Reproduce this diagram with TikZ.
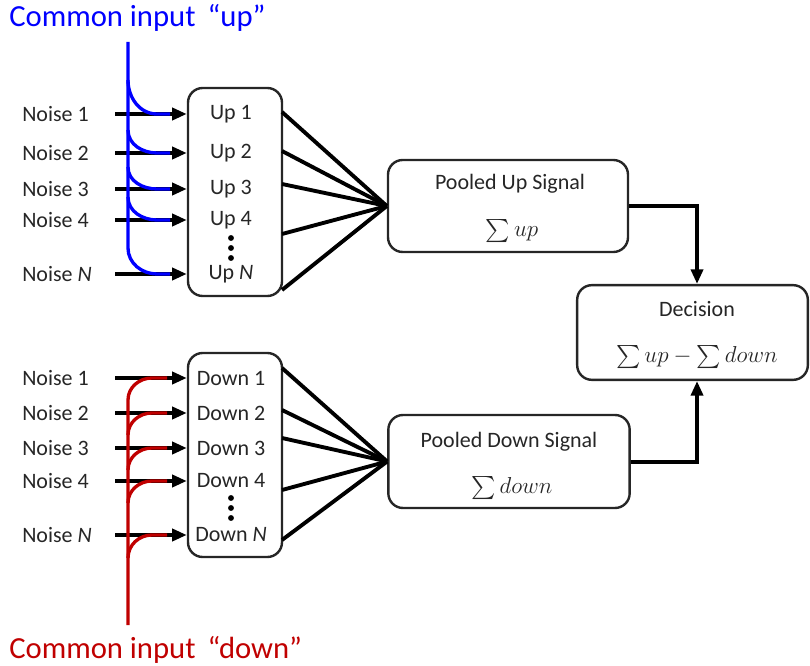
\documentclass[tikz,border=0pt]{standalone}
\usepackage{exscale}
\usepackage{fontspec}
\setmainfont{Carlito}
\usetikzlibrary{arrows.meta}
\definecolor{upblue}{RGB}{0,0,255}
\definecolor{downred}{RGB}{192,0,0}
\newcommand\bigsum{\mathop{\textstyle\sum}\nolimits}
\tikzset{
  box/.style={draw=black!85, line width=1.8pt, rounded corners=11pt, fill=white},
  lbl/.style={font=\fontsize{16.5}{19}\selectfont, text=black!85, inner sep=0pt},
  ttl/.style={font=\fontsize{23}{27}\selectfont, inner sep=0pt, anchor=west},
  arr/.style={line width=3pt, -{Triangle[length=11pt,width=9pt]}},
  fan/.style={line width=2.9pt},
  conn/.style={line width=3pt, -{Triangle[length=11pt,width=9pt]}},
  blueline/.style={upblue, line width=2.5pt},
  redline/.style={downred, line width=2.5pt},
}
\begin{document}
\begin{tikzpicture}[x=0.75pt,y=-0.75pt]
\useasboundingbox (0,0) rectangle (810,666);

% titles
\node[ttl, text=upblue] (tup) at (9,18) {Common input\, “up”};
\node[ttl, text=downred] (tdown) at (9,650) {Common input\, “down”};

% boxes
\node[box, minimum width=70.5pt, minimum height=156pt] (upbox) at (235,192) {};
\node[box, minimum width=70.5pt, minimum height=153pt] (downbox) at (235,455) {};
\node[box, minimum width=180pt, minimum height=69pt] (poolup) at (508,206) {};
\node[box, minimum width=181pt, minimum height=69.75pt] (pooldown) at (509,461.5) {};
\node[box, minimum width=173pt, minimum height=71pt] (decision) at (692.5,332.5) {};

% box texts
\node[lbl] (pu1) at (510,184) {Pooled Up Signal};
\node[lbl] (pu2) at (512,231) {$\bigsum up$};
\node[lbl] (pd1) at (509,442) {Pooled Down Signal};
\node[lbl] (pd2) at (512,488) {$\bigsum down$};
\node[lbl] (de1) at (697,309) {Decision};
\node[lbl] (de2) at (697,357) {$\bigsum up - \bigsum down$};

% up rows
\foreach \i/\y/\t in {1/114/1, 2/153/2, 3/189/3, 4/220/4, 5/274/\textit{N}} {
  \node[lbl, anchor=west] (nu\i) at (22,\y) {Noise \t};
  \node[lbl] (u\i) at (231,\y) {Up \t};
  \coordinate (su\i) at (115,\y);
  \draw[arr] (su\i) -- (upbox.west |- su\i);
}
% down rows
\foreach \i/\y/\t in {1/378/1, 2/413/2, 3/448/3, 4/481/4, 5/535/\textit{N}} {
  \node[lbl, anchor=west] (nd\i) at (22,\y) {Noise \t};
  \node[lbl] (d\i) at (231,\y) {Down \t};
  \coordinate (sd\i) at (115,\y);
  \draw[arr] (sd\i) -- (downbox.west |- sd\i);
}

% dots
\foreach \y in {238,248,258,498,508,518} \fill (231,\y) circle (2.2pt);

% blue common input
\draw[blueline] (128,42) -- (128,248) to[out=-90,in=180] (157,274) -- (170,274);
\foreach \a/\b in {80/114, 130/153, 167/189, 197/220}
  \draw[blueline] (128,\a) to[out=-90,in=180] (157,\b) -- (170,\b);

% red common input
\draw[redline] (128,625) -- (128,400) to[out=90,in=180] (152,378) -- (167,378);
\foreach \a/\b in {435/413, 470/448, 503/481, 558/535}
  \draw[redline] (128,\a) to[out=90,in=180] (152,\b) -- (167,\b);

% fans
\foreach \y [count=\k] in {112,151,184,234,290} {
  \coordinate (fu\k) at (282,\y);
  \draw[fan] (fu\k) -- (poolup.west);
}
\foreach \y [count=\k] in {368,410,438,490,540} {
  \coordinate (fd\k) at (282,\y);
  \draw[fan] (fd\k) -- (pooldown.west);
}

% to decision
\draw[conn] (poolup.east) -| ([xshift=3.4pt]decision.north);
\draw[conn] (pooldown.east) -| ([xshift=3.4pt]decision.south);
\end{tikzpicture}
\end{document}
